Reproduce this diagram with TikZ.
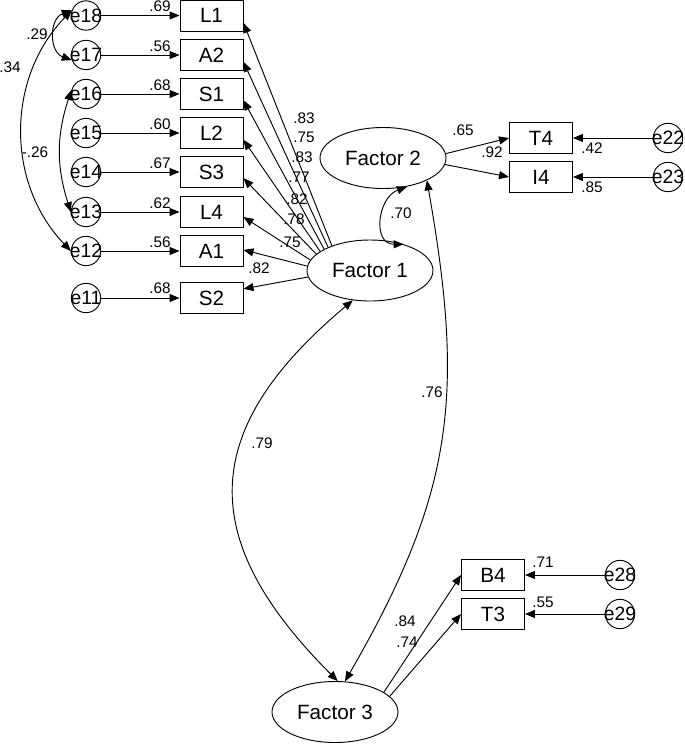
\documentclass[tikz,border=0pt]{standalone}
\usepackage{fontspec}
\setmainfont{Liberation Sans}
\usetikzlibrary{shapes.geometric}
\usetikzlibrary{arrows.meta}

\tikzset{
  var/.style={draw, rectangle, line width=0.7pt, minimum width=47.25pt, minimum height=23.25pt, inner sep=0pt, font=\fontsize{15.5}{18}\selectfont},
  err/.style={draw, circle, line width=0.7pt, minimum size=22pt, inner sep=0pt, label={[font=\fontsize{14.5}{16}\selectfont]center:#1}},
  fac/.style={draw, ellipse, line width=0.7pt, minimum width=94.5pt, minimum height=45.75pt, inner sep=0pt, font=\fontsize{15.5}{18}\selectfont},
  coef/.style={inner sep=0pt, font=\fontsize{11.5}{13}\selectfont},
  load/.style={-{Triangle[length=7.5pt,width=6pt]}, line width=0.7pt},
  corr/.style={{Triangle[length=7.5pt,width=6pt]}-{Triangle[length=7.5pt,width=6pt]}, line width=0.7pt}
}

\begin{document}
\begin{tikzpicture}[x=0.75pt,y=0.75pt]
\useasboundingbox (0,0) rectangle (685,-744);

% latent factors
\node[fac] (F1) at (370,-270.5) {Factor 1};
\node[fac] (F2) at (383,-158) {Factor 2};
\node[fac] (F3) at (335,-712) {Factor 3};

% indicators of factor 1 and their errors
\node[var] (L1) at (211.5,-15.5) {L1};
\node[var] (A2) at (211.5,-55) {A2};
\node[var] (S1) at (211.5,-94) {S1};
\node[var] (L2) at (211.5,-133) {L2};
\node[var] (S3) at (211.5,-172) {S3};
\node[var] (L4) at (211.5,-212) {L4};
\node[var] (A1) at (211.5,-251) {A1};
\node[var] (S2) at (211.5,-298) {S2};

\node[err=e18] (e18) at (86,-15.5) {};
\node[err=e17] (e17) at (86,-55) {};
\node[err=e16] (e16) at (86,-94) {};
\node[err=e15] (e15) at (86,-133) {};
\node[err=e14] (e14) at (86,-172) {};
\node[err=e13] (e13) at (86,-212) {};
\node[err=e12] (e12) at (86,-251) {};
\node[err=e11] (e11) at (86,-298) {};

% indicators of factor 2 and 3
\node[var] (T4) at (541,-138) {T4};
\node[var] (I4) at (541,-177) {I4};
\node[err=e22] (e22) at (668,-138) {};
\node[err=e23] (e23) at (668,-177) {};

\node[var] (B4) at (493,-575) {B4};
\node[var] (T3) at (493,-614) {T3};
\node[err=e28] (e28) at (620,-575) {};
\node[err=e29] (e29) at (620,-614) {};

% error paths
\draw[load] (e18) -- (L1);
\draw[load] (e17) -- (A2);
\draw[load] (e16) -- (S1);
\draw[load] (e15) -- (L2);
\draw[load] (e14) -- (S3);
\draw[load] (e13) -- (L4);
\draw[load] (e12) -- (A1);
\draw[load] (e11) -- (S2);
\draw[load] (e22) -- (T4);
\draw[load] (e23) -- (I4);
\draw[load] (e28) -- (B4);
\draw[load] (e29) -- (T3);

\node[coef] (wL1) at (160,-6.5) {.69};
\node[coef] (wA2) at (160,-46) {.56};
\node[coef] (wS1) at (160,-85) {.68};
\node[coef] (wL2) at (160,-124) {.60};
\node[coef] (wS3) at (160,-163) {.67};
\node[coef] (wL4) at (160,-203) {.62};
\node[coef] (wA1) at (160,-242) {.56};
\node[coef] (wS2) at (160,-288.5) {.68};
\node[coef] (wT4) at (592,-148) {.42};
\node[coef] (wI4) at (592,-187) {.85};
\node[coef] (wB4) at (543,-562) {.71};
\node[coef] (wT3) at (543,-602) {.55};

% loadings
\draw[load] (F1.147) -- (L1.-13);
\draw[load] (F1.151) -- (A2.-12);
\draw[load] (F1.155) -- (S1.-11);
\draw[load] (F1.159) -- (L2.-12);
\draw[load] (F1.163) -- (S3.-11);
\draw[load] (F1.170) -- (L4.-9);
\draw[load] (F1.176) -- (A1.2);
\draw[load] (F1.186) -- (S2.16);
\draw[load] (F2.4) -- (T4.west);
\draw[load] (F2.-6) -- (I4.west);
\draw[load] (F3.22) -- (B4.west);
\draw[load] (F3.16) -- (T3.west);

\node[coef] (fL1) at (304,-118) {.83};
\node[coef] (fA2) at (304,-137) {.75};
\node[coef] (fS1) at (302,-157) {.83};
\node[coef] (fL2) at (299,-177) {.77};
\node[coef] (fS3) at (297,-199) {.82};
\node[coef] (fL4) at (294,-219) {.78};
\node[coef] (fA1) at (290,-242) {.75};
\node[coef] (fS2) at (259,-268) {.82};
\node[coef] (fT4) at (463,-130) {.65};
\node[coef] (fI4) at (492,-152) {.92};
\node[coef] (fB4) at (405,-621) {.84};
\node[coef] (fT3) at (407,-642) {.74};

% correlations
\draw[corr] (e18.160) to[out=200,in=160,looseness=1.25] (e17.200);
\draw[corr] (e18.160) to[bend right=44] (e12.180);
\draw[corr] (e16.165) to[bend right=18] (e13.180);
\draw[corr] (F2.-50) to[out=200,in=180,looseness=1.4] (F1.38);
\draw[corr] (F2.-27) to[out=-80,in=60,looseness=1.1] (F3.72);
\draw[corr] (F1.-120) to[out=220,in=135,looseness=1.35] (F3.85);

\node[coef] (r1817) at (37,-34) {.29};
\node[coef] (r1812) at (10,-67) {.34};
\node[coef] (r1613) at (35,-152) {-.26};
\node[coef] (r12) at (401,-213) {.70};
\node[coef] (r23) at (432,-392) {.76};
\node[coef] (r13) at (262,-443) {.79};
\end{tikzpicture}
\end{document}
